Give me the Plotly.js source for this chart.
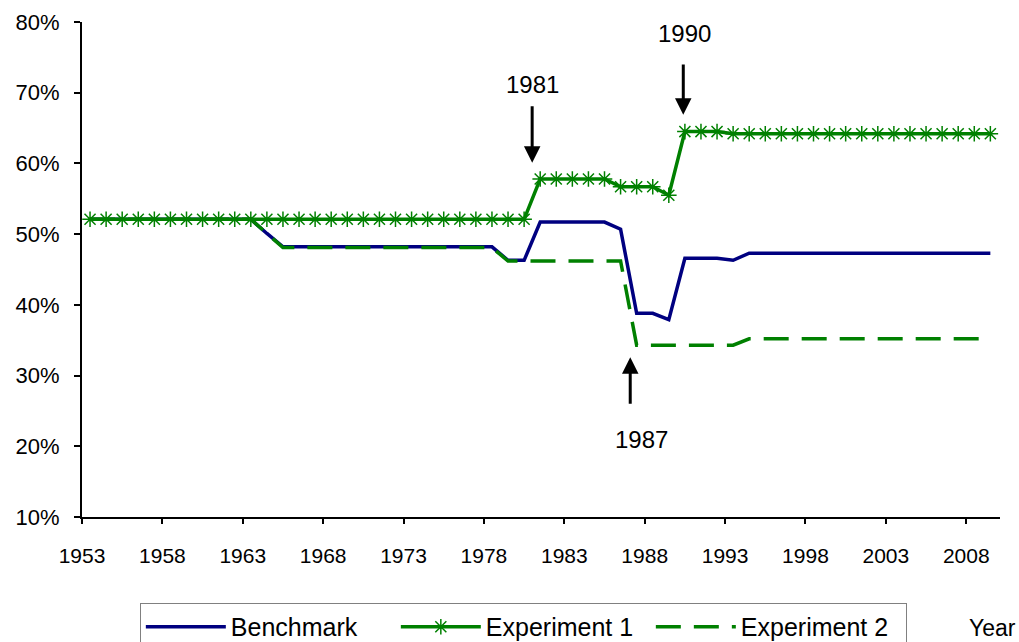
<!DOCTYPE html>
<html>
<head>
<meta charset="utf-8">
<script src="https://cdn.plot.ly/plotly-3.0.1.min.js"></script>
<style>html,body{margin:0;padding:0;background:#fff;}#chart{width:1019px;height:642px;}</style>
</head>
<body>
<div id="chart"></div>
<script>
const years = [];
for (let y = 1953; y <= 2009; y++) years.push(y);

// values in percent, one per year 1953..2009
const benchmark = [
  52.1,52.1,52.1,52.1,52.1,52.1,52.1,52.1,52.1,52.1,52.1, // 1953-1963
  50.1,                                                    // 1964
  48.2,48.2,48.2,48.2,48.2,48.2,48.2,48.2,48.2,48.2,48.2,48.2,48.2,48.2, // 1965-1978
  46.3,46.3,                                               // 1979-1980
  51.7,51.7,51.7,51.7,51.7,                                // 1981-1985
  50.7,                                                    // 1986
  38.8,38.8,37.9,                                          // 1987-1989
  46.6,46.6,46.6,46.3,                                     // 1990-1993
  47.3,47.3,47.3,47.3,47.3,47.3,47.3,47.3,47.3,47.3,47.3,47.3,47.3,47.3,47.3,47.3 // 1994-2009
];
const experiment1 = [
  52.1,52.1,52.1,52.1,52.1,52.1,52.1,52.1,52.1,52.1,
  52.1,52.1,52.1,52.1,52.1,52.1,52.1,52.1,52.1,52.1,
  52.1,52.1,52.1,52.1,52.1,52.1,52.1,52.1,               // 1953-1980
  57.8,57.8,57.8,57.8,57.8,                                // 1981-1985
  56.7,56.7,56.7,                                          // 1986-1988
  55.5,                                                    // 1989
  64.5,64.5,64.5,                                          // 1990-1992
  64.2,64.2,64.2,64.2,64.2,64.2,64.2,64.2,64.2,64.2,
  64.2,64.2,64.2,64.2,64.2,64.2,64.2                       // 1993-2009
];
const experiment2 = [
  52.1,52.1,52.1,52.1,52.1,52.1,52.1,52.1,52.1,52.1,52.1, // 1953-1963
  50.1,                                                    // 1964
  48.1,48.1,48.1,48.1,48.1,48.1,48.1,48.1,48.1,48.1,48.1,48.1,48.1,48.1, // 1965-1978
  46.2,46.2,46.2,46.2,46.2,46.2,46.2,46.2,                 // 1979-1986
  34.3,34.3,34.3,34.3,34.3,34.3,34.3,                      // 1987-1993
  35.2,35.2,35.2,35.2,35.2,35.2,35.2,35.2,35.2,35.2,35.2,35.2,35.2,35.2,35.2,35.2 // 1994-2009
];

const tickLabels = ['1953','1958','1963','1968','1973','1978','1983','1988','1993','1998','2003','2008'];
const tickPositions = tickLabels.map(t => Number(t) - 0.5);
const yTicks = [10,20,30,40,50,60,70,80];

const FONT = 'Liberation Sans, Arial, sans-serif';

const traces = [
  {x: years, y: benchmark, name: 'Benchmark', type: 'scatter', mode: 'lines',
   line: {color: '#000080', width: 3.5}},
  {x: years, y: experiment1, name: 'Experiment 1', type: 'scatter', mode: 'lines+markers',
   line: {color: '#008000', width: 3.5},
   marker: {symbol: 'asterisk-open', size: 13, color: '#008000', line: {color: '#008000', width: 1.5}}},
  {x: years, y: experiment2, name: 'Experiment 2', type: 'scatter', mode: 'lines',
   line: {color: '#008000', width: 3.5, dash: '25px,13px'}}
];

function arrow(x, yHead, yTail) {
  return {x: x, y: yHead, ax: x, ay: yTail, xref: 'x', yref: 'y', axref: 'x', ayref: 'y',
          text: '', showarrow: true, arrowhead: 2, arrowsize: 1.1, arrowwidth: 3, arrowcolor: '#000'};
}
function label(x, y, t) {
  return {x: x, y: y, xref: 'x', yref: 'y', text: t, showarrow: false,
          font: {family: FONT, size: 24, color: '#000'}};
}

const layout = {
  width: 1019, height: 642,
  margin: {l: 82, r: 19, t: 22, b: 125, autoexpand: false},
  paper_bgcolor: '#fff', plot_bgcolor: '#fff',
  font: {family: FONT, size: 21, color: '#000'},
  showlegend: true,
  legend: {orientation: 'h', x: 0.063, y: -0.1737, xanchor: 'left', yanchor: 'top',
           bordercolor: '#808080', borderwidth: 1, bgcolor: '#fff',
           entrywidth: 160, entrywidthmode: 'pixels',
           font: {family: FONT, size: 25, color: '#000'}, itemwidth: 80, tracegroupgap: 0},
  xaxis: {range: [1952.5, 2009.6], showgrid: false, zeroline: false,
          showline: true, linecolor: '#000', linewidth: 2,
          tickmode: 'array', tickvals: tickPositions, ticktext: tickLabels,
          ticks: 'outside', ticklen: 5, tickwidth: 2, tickcolor: '#000',
          ticklabelstandoff: 14,
          tickfont: {family: FONT, size: 21, color: '#000'}},
  yaxis: {range: [10, 80], showgrid: false, zeroline: false,
          showline: true, linecolor: '#000', linewidth: 2,
          tickmode: 'array', tickvals: yTicks, ticktext: yTicks.map(v => v + '%'),
          ticks: 'outside', ticklen: 6, tickwidth: 2, tickcolor: '#000',
          ticklabelstandoff: 10,
          tickfont: {family: FONT, size: 22, color: '#000'}},
  annotations: [
    arrow(1980.5, 60.1, 68.3),
    label(1980.5, 71.1, '1981'),
    arrow(1989.9, 66.9, 74.2),
    label(1990.0, 78.4, '1990'),
    arrow(1986.6, 32.6, 25.8),
    label(1987.3, 20.9, '1987'),
    {x: 0.992, y: -0.225, xref: 'paper', yref: 'paper', text: 'Year', showarrow: false,
     xanchor: 'center', yanchor: 'middle', font: {family: FONT, size: 23, color: '#000'}}
  ]
};

Plotly.newPlot('chart', traces, layout, {displayModeBar: false, staticPlot: true});
</script>
</body>
</html>
